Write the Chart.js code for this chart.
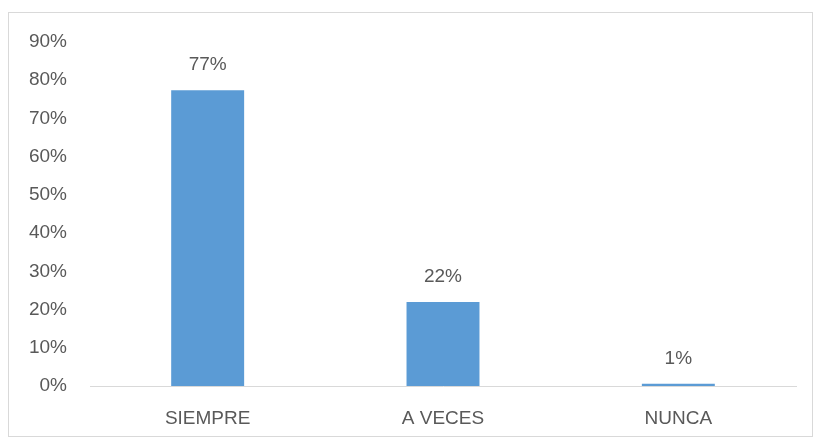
<!DOCTYPE html>
<html>
<head>
<meta charset="utf-8">
<script src="https://cdn.jsdelivr.net/npm/chart.js@4"></script>
<style>
  html, body { margin: 0; padding: 0; background: #fff; }
  #wrap { width: 814px; height: 440px; }
</style>
</head>
<body>
<div id="wrap"><canvas id="chart" width="814" height="440"></canvas></div>
<script>
// data
const categories = ['SIEMPRE', 'A VECES', 'NUNCA'];
const percentages = [77.4, 22.0, 0.6];
const valueLabels = ['77%', '22%', '1%'];

const textColor = '#595959';
const fontFamily = '"Liberation Sans", Arial, sans-serif';

// light grey frame round the whole chart
const framePlugin = {
  id: 'frame',
  beforeDraw(chart) {
    const ctx = chart.ctx;
    ctx.save();
    ctx.fillStyle = '#fff';
    ctx.fillRect(0, 0, chart.width, chart.height);
    ctx.strokeStyle = '#d9d9d9';
    ctx.lineWidth = 1;
    ctx.strokeRect(8.5, 12.5, 804, 424);
    ctx.restore();
  }
};

// value labels above each bar
const valueLabelPlugin = {
  id: 'valueLabels',
  afterDatasetsDraw(chart) {
    const ctx = chart.ctx;
    const meta = chart.getDatasetMeta(0);
    ctx.save();
    ctx.fillStyle = textColor;
    ctx.font = '19px ' + fontFamily;
    ctx.textAlign = 'center';
    ctx.textBaseline = 'middle';
    meta.data.forEach((bar, i) => {
      ctx.fillText(valueLabels[i], bar.x, bar.y - 25);
    });
    ctx.restore();
  }
};

new Chart(document.getElementById('chart'), {
  type: 'bar',
  data: {
    labels: categories,
    datasets: [{
      data: percentages,
      backgroundColor: '#5b9bd5',
      borderWidth: 0,
      barPercentage: 0.62,
      categoryPercentage: 0.5
    }]
  },
  options: {
    responsive: false,
    animation: false,
    layout: { padding: { top: 42, right: 18, bottom: 0, left: 0 } },
    plugins: { legend: { display: false }, tooltip: { enabled: false } },
    scales: {
      x: {
        grid: { display: false, drawTicks: false },
        border: { display: true, color: '#d9d9d9', width: 1 },
        ticks: { color: textColor, font: { size: 19, family: fontFamily }, padding: 21 },
        afterFit(scale) { scale.height = 54; }
      },
      y: {
        min: 0,
        max: 90,
        grid: { display: false, drawTicks: false },
        border: { display: false },
        ticks: {
          stepSize: 10,
          color: textColor,
          font: { size: 19, family: fontFamily },
          padding: 23,
          callback: v => v + '%'
        },
        afterFit(scale) { scale.width = 90; }
      }
    }
  },
  plugins: [framePlugin, valueLabelPlugin]
});
</script>
</body>
</html>
